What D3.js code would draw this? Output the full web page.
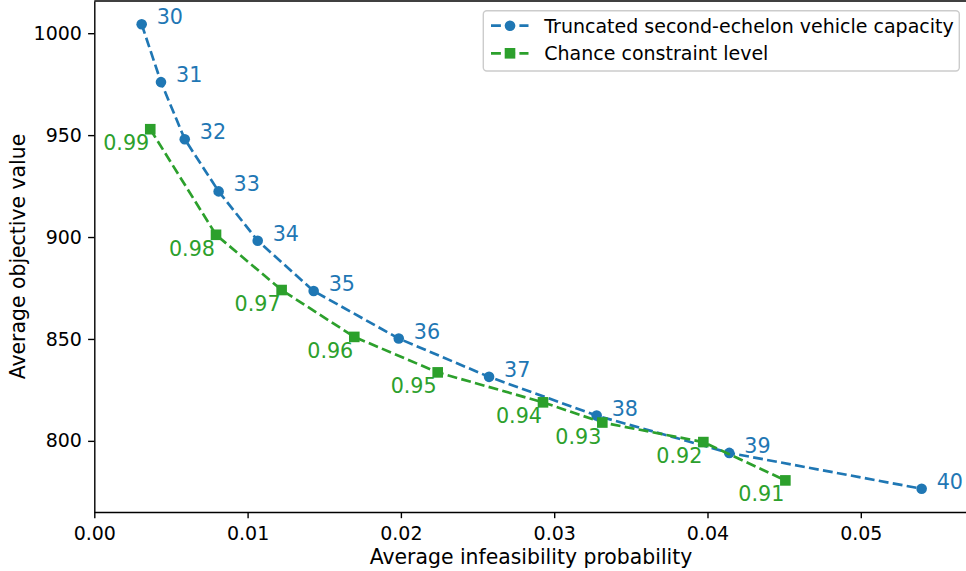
<!DOCTYPE html>
<html>
<head>
<meta charset="utf-8">
<script src="https://cdn.jsdelivr.net/npm/d3@7"></script>
<style>
  body { margin: 0; background: #fff; }
  svg { display: block; font-family: "DejaVu Sans", sans-serif; }
  .axis text { font-family: "DejaVu Sans", sans-serif; font-size: 19px; fill: #000; }
  .axis path, .axis line { stroke: #000; stroke-width: 1.4px; }
</style>
</head>
<body>
<div id="chart-area"></div>
<script>
// Data
let capacityLabels = ["30", "31", "32", "33", "34", "35", "36", "37", "38", "39", "40"];
let capacityX = [0.00309, 0.00435, 0.0059, 0.00811, 0.01066, 0.01431, 0.01986, 0.02575, 0.03277, 0.04142, 0.05397];
let capacityY = [1004.4, 976.0, 948.0, 922.4, 898.2, 873.5, 850.2, 831.4, 812.4, 794.1, 776.5];

let levelLabels = ["0.99", "0.98", "0.97", "0.96", "0.95", "0.94", "0.93", "0.92", "0.91"];
let levelX = [0.00365, 0.00794, 0.01222, 0.01696, 0.0224, 0.02927, 0.03314, 0.03973, 0.04508];
let levelY = [952.9, 901.1, 874.0, 851.0, 833.6, 818.9, 809.0, 799.4, 780.6];

let xTicks = [0, 0.01, 0.02, 0.03, 0.04, 0.05];
let yTicks = [800, 850, 900, 950, 1000];

let seriesNames = ["Truncated second-echelon vehicle capacity", "Chance constraint level"];

// Chart area
let width = 966, height = 571;
let plot = {left: 94.3, right: 968.1, top: 1, bottom: 512};
let labelSize = "20.4px", pointSize = "20.7px", legendSize = "19px";

let svg = d3.select("#chart-area").append("svg")
    .attr("width", width)
    .attr("height", height);

// Scales
let x = d3.scaleLinear().domain([0, 0.057]).range([plot.left, plot.right]);
let y = d3.scaleLinear().domain([765.1, 1015.8]).range([plot.bottom, plot.top]);

let blue = "#1f77b4", green = "#2ca02c";
let dash = "9.9,4.3";

// Axes
let xAxis = d3.axisBottom(x).tickValues(xTicks).tickFormat(d3.format(".2f"))
    .tickSize(6.2).tickPadding(6.2).tickSizeOuter(0);
let yAxis = d3.axisLeft(y).tickValues(yTicks).tickFormat(d3.format("d"))
    .tickSize(6.2).tickPadding(6.2).tickSizeOuter(0);

svg.append("g").attr("class", "x-axis axis")
    .attr("transform", "translate(0," + plot.bottom + ")")
    .call(xAxis)
    .selectAll("text").attr("dy", "0.8em");

svg.append("g").attr("class", "y-axis axis")
    .attr("transform", "translate(" + plot.left + ",0)")
    .call(yAxis);

// Top and right spines
svg.append("line").attr("x1", plot.left).attr("x2", plot.right)
    .attr("y1", plot.top).attr("y2", plot.top)
    .attr("stroke", "#000").attr("stroke-width", 1.4);
svg.append("line").attr("x1", plot.right).attr("x2", plot.right)
    .attr("y1", plot.top).attr("y2", plot.bottom)
    .attr("stroke", "#000").attr("stroke-width", 1.4);

// Axis titles
svg.append("text")
    .attr("x", 531)
    .attr("y", 564)
    .attr("text-anchor", "middle")
    .style("font-size", labelSize)
    .text("Average infeasibility probability");

svg.append("text")
    .attr("transform", "translate(25," + ((plot.top + plot.bottom) / 2) + ") rotate(-90)")
    .attr("text-anchor", "middle")
    .style("font-size", labelSize)
    .text("Average objective value");

// Series
let capacityData = capacityX.map((d, i) => ({x: d, y: capacityY[i], label: capacityLabels[i]}));
let levelData = levelX.map((d, i) => ({x: d, y: levelY[i], label: levelLabels[i]}));

let line = d3.line().x(d => x(d.x)).y(d => y(d.y));

// Blue series
svg.append("path").datum(capacityData)
    .attr("d", line)
    .attr("fill", "none")
    .attr("stroke", blue)
    .attr("stroke-width", 2.67)
    .attr("stroke-dasharray", dash);

svg.selectAll(".cap-dot").data(capacityData).enter()
    .append("circle").attr("class", "cap-dot")
    .attr("cx", d => x(d.x)).attr("cy", d => y(d.y))
    .attr("r", 5.3).attr("fill", blue);

// Green series
svg.append("path").datum(levelData)
    .attr("d", line)
    .attr("fill", "none")
    .attr("stroke", green)
    .attr("stroke-width", 2.67)
    .attr("stroke-dasharray", dash);

svg.selectAll(".lvl-dot").data(levelData).enter()
    .append("rect").attr("class", "lvl-dot")
    .attr("x", d => x(d.x) - 5.3).attr("y", d => y(d.y) - 5.3)
    .attr("width", 10.6).attr("height", 10.6).attr("fill", green);

// Point labels
svg.selectAll(".cap-label").data(capacityData).enter()
    .append("text").attr("class", "cap-label")
    .attr("x", d => x(d.x) + 15).attr("y", d => y(d.y))
    .attr("fill", blue).style("font-size", pointSize)
    .text(d => d.label);

svg.selectAll(".lvl-label").data(levelData).enter()
    .append("text").attr("class", "lvl-label")
    .attr("x", d => x(d.x) - 1).attr("y", d => y(d.y) + 21)
    .attr("text-anchor", "end")
    .attr("fill", green).style("font-size", pointSize)
    .text(d => d.label);

// Legend
let legend = svg.append("g");
legend.append("rect")
    .attr("x", 483.3).attr("y", 10.7)
    .attr("width", 476).attr("height", 60.3)
    .attr("rx", 3.5)
    .attr("fill", "#fff").attr("fill-opacity", 0.8)
    .attr("stroke", "#cccccc").attr("stroke-width", 1.4);

let legendRows = [
    {name: seriesNames[0], color: blue, shape: "circle", cy: 25.7},
    {name: seriesNames[1], color: green, shape: "square", cy: 53.3}
];

legendRows.forEach(r => {
    legend.append("line")
        .attr("x1", 491).attr("x2", 528.5)
        .attr("y1", r.cy).attr("y2", r.cy)
        .attr("stroke", r.color).attr("stroke-width", 2.67)
        .attr("stroke-dasharray", dash);
    if (r.shape === "circle") {
        legend.append("circle").attr("cx", 510).attr("cy", r.cy).attr("r", 5.3).attr("fill", r.color);
    } else {
        legend.append("rect").attr("x", 510 - 5.3).attr("y", r.cy - 5.3)
            .attr("width", 10.6).attr("height", 10.6).attr("fill", r.color);
    }
    legend.append("text")
        .attr("x", 544.3).attr("y", r.cy + 7)
        .style("font-size", legendSize)
        .text(r.name);
});
</script>
</body>
</html>
